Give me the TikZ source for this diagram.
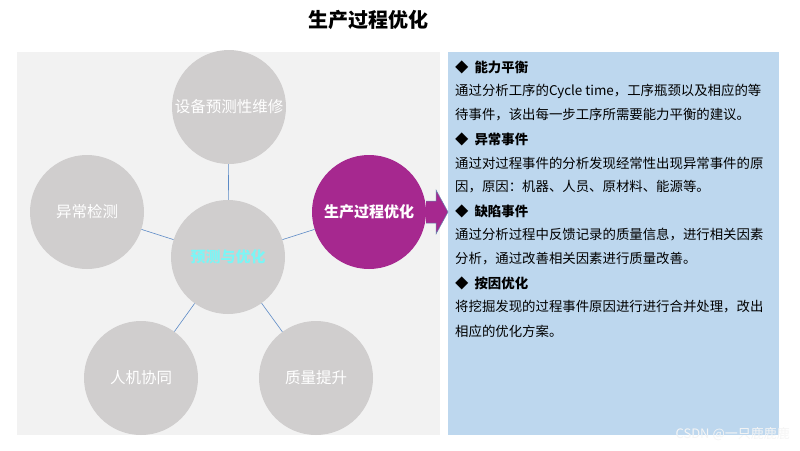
\documentclass[tikz,border=0pt]{standalone}
\usepackage{fontspec}
\setmainfont{Noto Sans CJK SC}
\usetikzlibrary{shapes.arrows}
\definecolor{panelgray}{HTML}{F2F2F2}
\definecolor{panelblue}{HTML}{BDD7EE}
\definecolor{circgray}{HTML}{D0CECE}
\definecolor{purp}{HTML}{A6288F}
\definecolor{linkblue}{HTML}{5B8AC6}
\definecolor{cyantxt}{HTML}{7CF5F5}
\begin{document}
\begin{tikzpicture}[x=1pt,y=-1pt,
  bub/.style={circle,fill=circgray,minimum size=114pt,inner sep=0pt,text=white,font=\fontsize{15.5}{17}\selectfont},
  link/.style={draw=linkblue,line width=0.6pt},
  txt/.style={anchor=west,inner sep=0pt,font=\fontsize{13.4}{15}\selectfont},
  hd/.style={anchor=west,inner sep=0pt,font=\fontsize{13.4}{15}\selectfont\bfseries}]
\useasboundingbox (0,0) rectangle (800,450);
\fill[white] (0,0) rectangle (800,450);
\node[font=\fontsize{20}{22}\selectfont\bfseries] (title) at (368,20) {生产过程优化};
\fill[panelgray] (17,52) rectangle (440,435);
\fill[panelblue] (448,52) rectangle (779,435);
\coordinate (c0) at (228,257);
\node[bub] (top) at (229,107) {设备预测性维修};
\node[bub] (left) at (87,212) {异常检测};
\node[bub,fill=purp,font=\fontsize{15}{17}\selectfont\bfseries] (right) at (369,212) {生产过程优化};
\node[bub] (bl) at (141,378) {人机协同};
\node[bub] (br) at (316,378) {质量提升};
\node[bub,text=cyantxt,font=\fontsize{15}{17}\selectfont\bfseries] (ctr) at (c0) {预测与优化};
\draw[link] (ctr) -- (top);
\draw[link] (ctr) -- (left);
\draw[link] (ctr) -- (right);
\draw[link] (ctr) -- (bl);
\draw[link] (ctr) -- (br);
\coordinate (tip) at (448,212);
\filldraw[fill=purp,draw=linkblue!70!gray,line width=0.5pt]
  (right.east |- 0,201) -- (436,201) -- (436,190) -- (tip) -- (436,234) -- (436,223) -- (right.east |- 0,223);
\node[hd] (h1) at (455,67) {◆\hspace{6pt}能力平衡};
\node[txt] (t1a) at (455,91) {通过分析工序的Cycle time，工序瓶颈以及相应的等};
\node[txt] (t1b) at (455,115) {待事件，该出每一步工序所需要能力平衡的建议。};
\node[hd] (h2) at (455,139) {◆\hspace{6pt}异常事件};
\node[txt] (t2a) at (455,163) {通过对过程事件的分析发现经常性出现异常事件的原};
\node[txt] (t2b) at (455,187) {因，原因：机器、人员、原材料、能源等。};
\node[hd] (h3) at (455,211) {◆\hspace{6pt}缺陷事件};
\node[txt] (t3a) at (455,235) {通过分析过程中反馈记录的质量信息，进行相关因素};
\node[txt] (t3b) at (455,259) {分析，通过改善相关因素进行质量改善。};
\node[hd] (h4) at (455,283) {◆\hspace{6pt}按因优化};
\node[txt] (t4a) at (455,307) {将挖掘发现的过程事件原因进行进行合并处理，改出};
\node[txt] (t4b) at (455,331) {相应的优化方案。};
\node[anchor=east,inner sep=0pt,text=white!92!gray,font=\fontsize{13}{14}\selectfont] (wm) at (790,434) {CSDN @一只鹿鹿鹿};
\end{tikzpicture}
\end{document}
